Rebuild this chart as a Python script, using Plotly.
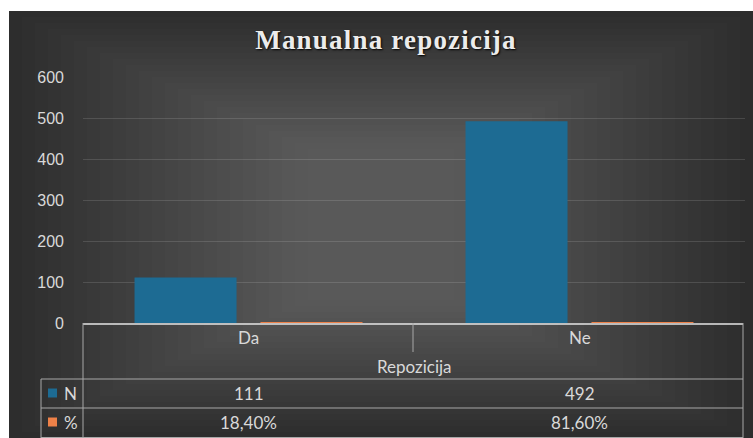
import plotly.graph_objects as go

# ==================== DATA ====================
categories = ["Da", "Ne"]
n_values = [111, 492]
pct_values = [0.184, 0.816]
series_names = ["N", "%"]
axis_title = "Repozicija"
chart_title = "Manualna repozicija"
y_ticks = [0, 100, 200, 300, 400, 500, 600]

# ==================== THEME ====================
BLUE = "#1d6b93"
ORANGE = "#ee8148"
TEXT = "#d9d9d9"
LINE = "#a8a8a8"

W, H = 753, 438
L, R, T, B = 83, 8, 77, 115
PW, PH = W - L - R, H - T - B


def px_x(p):
    return (p - L) / PW


def px_y(p):
    return (H - B - p) / PH


fig = go.Figure()
fig.add_trace(go.Bar(x=categories, y=n_values, name=series_names[0],
                     marker=dict(color=BLUE, line=dict(width=0))))
# no outline: plotly then widens the (tiny) % bars to a visible sliver
fig.add_trace(go.Bar(x=categories, y=pct_values, name=series_names[1],
                     marker=dict(color=ORANGE, line=dict(width=0))))

shapes = []
# dark card with a soft vignette
shapes.append(dict(type="rect", xref="paper", yref="paper", layer="below",
                   x0=px_x(9), x1=px_x(W), y0=px_y(H), y1=px_y(11),
                   fillcolor="#2b2b2b", line=dict(width=0)))
for i in range(24):
    dx = 13 * i
    dy = 6 * i
    shapes.append(dict(type="rect", xref="paper", yref="paper", layer="below",
                       x0=px_x(9 + dx), x1=px_x(W - dx), y0=px_y(H - dy), y1=px_y(11 + dy),
                       fillcolor="rgba(255,255,255,0.0105)", line=dict(width=0)))


def hline(y, x0, x1, color=LINE, width=1):
    shapes.append(dict(type="line", xref="paper", yref="paper",
                       x0=px_x(x0), x1=px_x(x1), y0=px_y(y), y1=px_y(y),
                       line=dict(color=color, width=width)))


def vline(x, y0, y1):
    shapes.append(dict(type="line", xref="paper", yref="paper",
                       x0=px_x(x), x1=px_x(x), y0=px_y(y0), y1=px_y(y1),
                       line=dict(color=LINE, width=1)))


# data table grid
hline(324, 83, 743, color="#e6e6e6", width=1.3)
hline(379, 41, 743)
hline(408, 41, 743)
hline(437.5, 41, 743)
vline(83, 323, 438)
vline(743, 323, 438)
vline(413, 323, 352)
vline(41, 379, 438)

# legend keys inside the table
for color, yc in [(BLUE, 393), (ORANGE, 422)]:
    shapes.append(dict(type="rect", xref="paper", yref="paper",
                       x0=px_x(48), x1=px_x(57), y0=px_y(yc + 4.5), y1=px_y(yc - 4.5),
                       fillcolor=color, line=dict(width=0)))

table_font = dict(family="Lato, Open Sans, sans-serif", size=17, color=TEXT)
annotations = []


def label(x, y, text, xref="x", xanchor="center"):
    annotations.append(dict(x=x, y=px_y(y), xref=xref, yref="paper", text=text,
                            xanchor=xanchor, yanchor="middle", showarrow=False,
                            font=table_font))


for i, cat in enumerate(categories):
    label(i, 337, cat)
    label(i, 393, str(n_values[i]))
    label(i, 422, f"{pct_values[i] * 100:.2f}%".replace(".", ","))
label(0.5, 366, axis_title)
for name, yc in zip(series_names, [393, 422]):
    label(px_x(62), yc, name, xref="paper", xanchor="left")

fig.update_layout(
    width=W, height=H,
    margin=dict(l=L, r=R, t=T, b=B),
    paper_bgcolor="white",
    plot_bgcolor="rgba(0,0,0,0)",
    barmode="group",
    bargap=0.239,
    bargroupgap=0.19,
    showlegend=False,
    title=dict(text=chart_title, x=386 / W, xref="container", xanchor="center",
               y=1 - 40 / H, yanchor="middle",
               font=dict(family="Liberation Serif, serif", size=27, color="#ececec",
                         weight="bold", shadow="1px 1px 2px #000")),
    xaxis=dict(range=[-0.5, 1.5], showticklabels=False, showgrid=False,
               zeroline=False, showline=False, fixedrange=True),
    yaxis=dict(range=[0, 600], tickvals=y_ticks, showgrid=True,
               gridcolor="rgba(255,255,255,0.13)", gridwidth=1,
               zeroline=False, showline=False, ticklabelstandoff=18,
               tickfont=dict(family="Liberation Sans, Arial, sans-serif", size=16, color=TEXT)),
    shapes=shapes,
    annotations=annotations,
)

# page margin off, and a little tracking on the title like the original
post = """
document.body.style.margin = '0';
var t = document.querySelector('.gtitle');
if (t) { t.style.letterSpacing = '1.2px'; }
"""
fig.write_html("out.html", post_script=post, config={"displayModeBar": False})
